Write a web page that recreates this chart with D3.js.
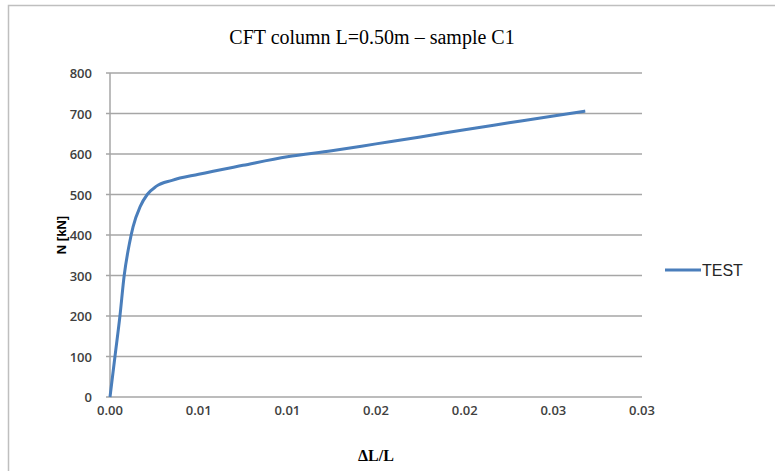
<!DOCTYPE html>
<html lang="en">
<head>
<meta charset="UTF-8">
<title>CFT column</title>
<script src="https://d3js.org/d3.v7.min.js"></script>
<style>
  body { margin: 0; background: #fff; }
</style>
</head>
<body>
<script>
var strain = [0, 0.00028, 0.00056, 0.0008, 0.0011, 0.0013, 0.0017, 0.0021, 0.0026, 0.0035, 0.005, 0.0075, 0.01, 0.0125, 0.015, 0.0175, 0.02, 0.0225, 0.025, 0.0268]
var load = [0, 100, 200, 300, 380, 420, 470, 500, 520, 535, 550, 572, 593, 608, 625, 642, 660, 677, 694, 706]
var xTicks = [0, 0.005, 0.01, 0.015, 0.02, 0.025, 0.03]
var xTickLabels = ['0.00', '0.01', '0.01', '0.02', '0.02', '0.03', '0.03']
var yTicks = [0, 100, 200, 300, 400, 500, 600, 700, 800]

var w = 775, h = 471
// plot area edges (avoid the name "top", it is window.top)
var pLeft = 110, pRight = 642, pTop = 73, pBottom = 397

var svg = d3.select('body').append('svg')
    .attr('width', w)
    .attr('height', h)

// chart frame
svg.append('rect')
    .attr('x', 8.5).attr('y', 5.5)
    .attr('width', 800).attr('height', 520)
    .attr('fill', 'none')
    .attr('stroke', '#bfbfbf')
    .attr('stroke-width', 1.5)

var xScale = d3.scaleLinear().domain([0, 0.03]).range([pLeft, pRight])
var yScale = d3.scaleLinear().domain([0, 800]).range([pBottom, pTop])

// gridlines
svg.selectAll('.grid')
    .data(yTicks)
    .enter()
    .append('line')
    .attr('x1', pLeft - 4)
    .attr('x2', pRight)
    .attr('y1', d => yScale(d))
    .attr('y2', d => yScale(d))
    .attr('stroke', '#a6a6a6')
    .attr('stroke-width', 1.5)

// y axis line
svg.append('line')
    .attr('x1', pLeft).attr('x2', pLeft)
    .attr('y1', pTop).attr('y2', pBottom)
    .attr('stroke', '#a6a6a6')
    .attr('stroke-width', 1.5)

var tickFont = '"Open Sans", sans-serif'

svg.selectAll('.ylab')
    .data(yTicks)
    .enter()
    .append('text')
    .attr('x', 92)
    .attr('y', d => yScale(d) + 5)
    .attr('text-anchor', 'end')
    .attr('font-family', tickFont)
    .attr('font-size', 13)
    .attr('font-weight', 600)
    .attr('fill', '#404040')
    .text(d => d)

svg.selectAll('.xlab')
    .data(xTicks)
    .enter()
    .append('text')
    .attr('x', d => xScale(d))
    .attr('y', 415)
    .attr('text-anchor', 'middle')
    .attr('font-family', tickFont)
    .attr('font-size', 13)
    .attr('font-weight', 600)
    .attr('fill', '#404040')
    .text((d, i) => xTickLabels[i])

// the curve
var line = d3.line()
    .x((d, i) => xScale(strain[i]))
    .y(d => yScale(d))
    .curve(d3.curveMonotoneX)

svg.append('path')
    .datum(load)
    .attr('d', line)
    .attr('fill', 'none')
    .attr('stroke', '#4a7ebb')
    .attr('stroke-width', 3)

// titles
svg.append('text')
    .attr('x', 372).attr('y', 44)
    .attr('text-anchor', 'middle')
    .attr('font-family', '"Liberation Serif", "Times New Roman", serif')
    .attr('font-size', 20)
    .attr('fill', '#000')
    .text('CFT column L=0.50m \u2013 sample C1')

svg.append('text')
    .attr('transform', 'translate(66,' + ((pTop + pBottom) / 2) + ') rotate(-90)')
    .attr('text-anchor', 'middle')
    .attr('font-family', '"Liberation Sans", Arial, sans-serif')
    .attr('font-size', 13)
    .attr('font-weight', 'bold')
    .attr('fill', '#000')
    .text('N [kN]')

svg.append('text')
    .attr('x', 376).attr('y', 461)
    .attr('text-anchor', 'middle')
    .attr('font-family', '"Liberation Serif", "Times New Roman", serif')
    .attr('font-size', 16)
    .attr('font-weight', 'bold')
    .attr('fill', '#000')
    .text('\u0394L/L')

// legend
svg.append('line')
    .attr('x1', 665).attr('x2', 701)
    .attr('y1', 270).attr('y2', 270)
    .attr('stroke', '#4a7ebb')
    .attr('stroke-width', 3)

svg.append('text')
    .attr('x', 702).attr('y', 276)
    .attr('font-family', '"Liberation Sans", Arial, sans-serif')
    .attr('font-size', 16)
    .attr('fill', '#262626')
    .text('TEST')
</script>
</body>
</html>
